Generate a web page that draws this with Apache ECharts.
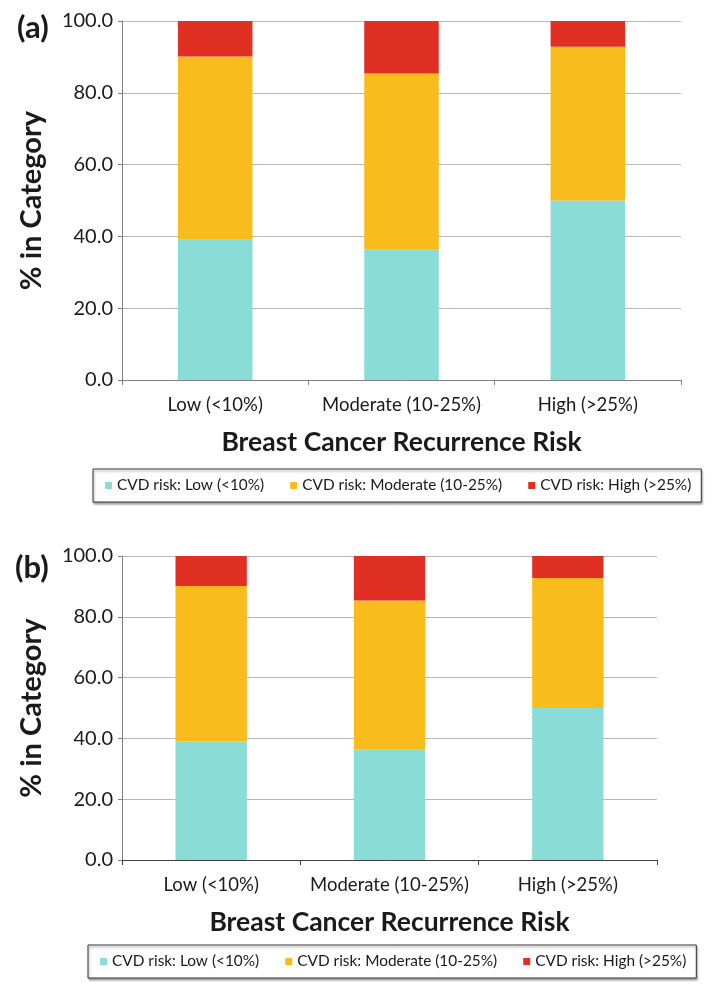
<!DOCTYPE html>
<html>
<head>
<meta charset="utf-8">
<script src="https://cdn.jsdelivr.net/npm/echarts@6/dist/echarts.min.js"></script>
<style>html,body{margin:0;padding:0;background:#fff;}#c{width:714px;height:991px;}</style>
</head>
<body>
<div id="c"></div>
<script>
var categories = ['Low (<10%)', 'Moderate (10-25%)', 'High (>25%)'];
var seriesNames = ['CVD risk: Low (<10%)', 'CVD risk: Moderate (10-25%)', 'CVD risk: High (>25%)'];
var cvdLow = [39.1, 36.3, 50.0];
var cvdModerate = [51.0, 49.1, 42.8];
var cvdHigh = [9.9, 14.6, 7.2];
var yTicks = [0, 20, 40, 60, 80, 100];
var colors = ['#8adcd6', '#f8bc1c', '#e03024'];
var values = [cvdLow, cvdModerate, cvdHigh];

var FONT = 'Lato';
var txt = '#1a1a1a';

function xAxis(gi, lineColor) {
  return {
    type: 'category', gridIndex: gi, data: categories,
    axisLine: {lineStyle: {color: lineColor, width: 1}},
    axisTick: {show: true, length: 5, lineStyle: {color: lineColor}},
    axisLabel: {fontFamily: FONT, fontSize: 18.5, color: txt, margin: 16, interval: 0},
    name: 'Breast Cancer Recurrence Risk', nameLocation: 'middle', nameGap: 49,
    nameTextStyle: {fontFamily: FONT, fontSize: 26.5, fontWeight: 'bold', color: txt}
  };
}
function yAxis(gi, lineColor) {
  return {
    type: 'value', gridIndex: gi, min: yTicks[0], max: yTicks[yTicks.length-1], interval: 20,
    axisLine: {show: true, lineStyle: {color: lineColor}},
    axisTick: {show: true, length: 4, lineStyle: {color: lineColor}},
    splitLine: {lineStyle: {color: '#b8b8b8', width: 1}},
    axisLabel: {fontFamily: FONT, fontSize: 20, color: txt, margin: 9, formatter: function(v){return v.toFixed(1);}},
    name: '% in Category', nameLocation: 'middle', nameRotate: 90, nameGap: 76,
    nameTextStyle: {fontFamily: FONT, fontSize: 29, fontWeight: 'bold', color: txt}
  };
}
var series = [];
[0, 1].forEach(function(gi){
  for (var i = 0; i < 3; i++) {
    series.push({
      type: 'bar', name: seriesNames[i], stack: 's' + gi, xAxisIndex: gi, yAxisIndex: gi,
      data: values[i], barWidth: '40%', itemStyle: {color: colors[i]}
    });
  }
});
function legend(left, top) {
  return {
    left: left, top: top, orient: 'horizontal', data: seriesNames,
    icon: 'rect', itemWidth: 7, itemHeight: 7, itemGap: 26,
    borderColor: '#333', borderWidth: 1, padding: [9, 10, 9, 12],
    shadowColor: 'rgba(0,0,0,0.35)', shadowOffsetX: 1, shadowOffsetY: 2, shadowBlur: 2,
    backgroundColor: '#fff',
    textStyle: {fontFamily: FONT, fontSize: 15.4, color: txt}
  };
}
var chart = echarts.init(document.getElementById('c'));
chart.setOption({
  animation: false,
  title: [
    {text: '(a)', left: 12, top: 7, textStyle: {fontFamily: FONT, fontSize: 31, fontWeight: 'bold', color: txt}},
    {text: '(b)', left: 10, top: 547, textStyle: {fontFamily: FONT, fontSize: 31, fontWeight: 'bold', color: txt}}
  ],
  grid: [
    {left: 122, right: 33, top: 21, height: 359},
    {left: 122, right: 57, top: 556, height: 304}
  ],
  xAxis: [xAxis(0, '#808080'), xAxis(1, '#404040')],
  yAxis: [yAxis(0, '#808080'), yAxis(1, '#808080')],
  legend: [legend(93, 469), legend(88, 945)],
  series: series
});
</script>
</body>
</html>
